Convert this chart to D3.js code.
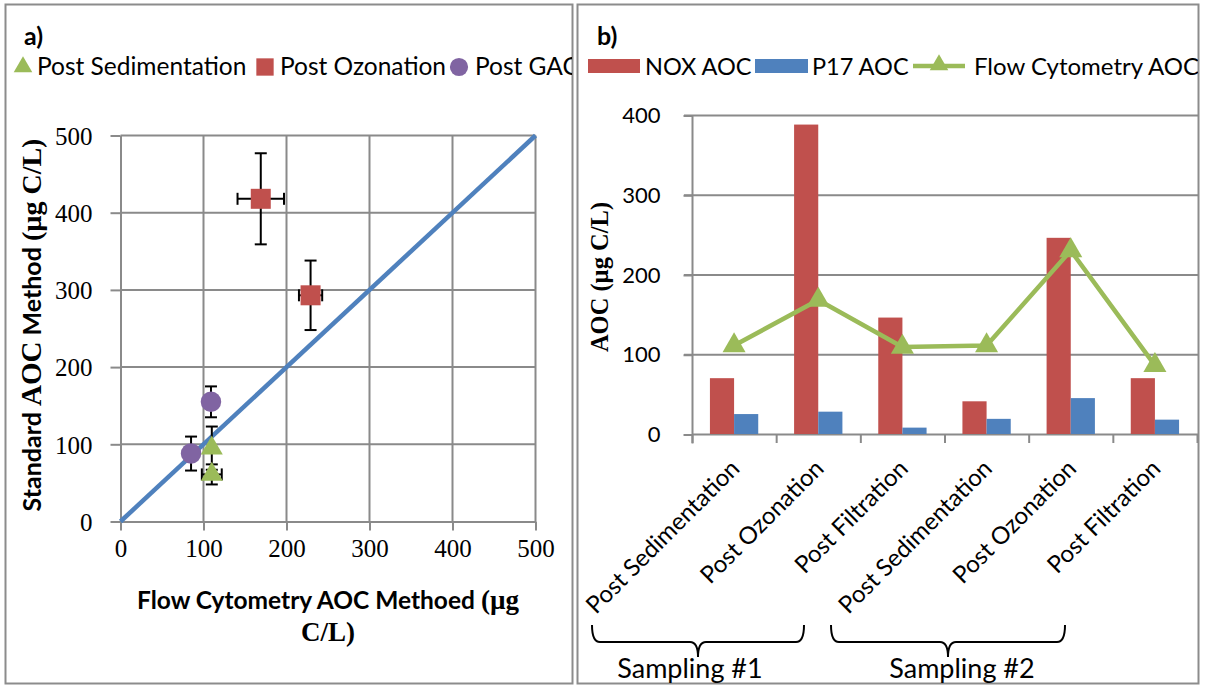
<!DOCTYPE html>
<html>
<head>
<meta charset="utf-8">
<script src="https://cdn.jsdelivr.net/npm/d3@7"></script>
<style>
  html, body { margin: 0; padding: 0; background: #fff; }
  svg { display: block; }
  .sans { font-family: Lato, "Open Sans", sans-serif; }
  .serif { font-family: "Liberation Serif", "Times New Roman", serif; }
</style>
</head>
<body>
<svg id="chart" width="1205" height="685"></svg>
<script>
// ---- Panel a: standard vs flow-cytometry AOC (µg C/L) ----
const sedX = [110, 110], sedY = [95, 61], sedXErr = [0, 12], sedYErr = [28, 13];
const ozoX = [169, 229], ozoY = [418, 293], ozoXErr = [28, 14], ozoYErr = [59, 45];
const gacX = [109, 85], gacY = [155, 88], gacXErr = [0, 0], gacYErr = [20, 22];
const scatterTicks = [0, 100, 200, 300, 400, 500];
const seriesA = ["Post Sedimentation", "Post Ozonation", "Post GAC"];

// ---- Panel b: AOC by treatment stage and sampling campaign ----
const stages = ["Post Sedimentation", "Post Ozonation", "Post Filtration",
                "Post Sedimentation", "Post Ozonation", "Post Filtration"];
const noxAOC = [70, 388, 146, 41, 246, 70];
const p17AOC = [25, 28, 8, 19, 45, 18];
const flowAOC = [111, 168, 109, 111, 230, 86];
const barTicks = [0, 100, 200, 300, 400];
const seriesB = ["NOX AOC", "P17 AOC", "Flow Cytometry AOC"];
const samplings = ["Sampling #1", "Sampling #2"];

const RED = "#C0504D", BLUE = "#4F81BD", GREEN = "#9BBB59", PURPLE = "#8064A2";
const GRID = "#8a8a8a", FRAME = "#8c8c8c";

const svg = d3.select("#chart");

// panel frames
svg.append("rect").attr("x", 5.5).attr("y", 4.5).attr("width", 567).attr("height", 679)
  .attr("fill", "none").attr("stroke", FRAME).attr("stroke-width", 2);
svg.append("rect").attr("x", 577.5).attr("y", 4.5).attr("width", 621).attr("height", 679)
  .attr("fill", "none").attr("stroke", FRAME).attr("stroke-width", 2);

svg.append("clipPath").attr("id", "clipA").append("rect")
  .attr("x", 6).attr("y", 5).attr("width", 566).attr("height", 678);
svg.append("clipPath").attr("id", "clipB").append("rect")
  .attr("x", 578).attr("y", 5).attr("width", 620).attr("height", 678);

// ================= Panel a =================
const gA = svg.append("g").attr("clip-path", "url(#clipA)");
const xA = d3.scaleLinear().domain([0, 500]).range([120.5, 535.5]);
const yA = d3.scaleLinear().domain([0, 500]).range([521.5, 135.5]);

// grid
gA.append("g").selectAll("line").data(scatterTicks.slice(1)).join("line")
  .attr("x1", d => xA(d)).attr("x2", d => xA(d)).attr("y1", yA(0)).attr("y2", yA(500))
  .attr("stroke", GRID).attr("stroke-width", 2);
gA.append("g").selectAll("line").data(scatterTicks.slice(1)).join("line")
  .attr("x1", xA(0)).attr("x2", xA(500)).attr("y1", d => yA(d)).attr("y2", d => yA(d))
  .attr("stroke", GRID).attr("stroke-width", 2);

// axes
const axA_x = gA.append("g").attr("transform", `translate(0,${yA(0)})`)
  .call(d3.axisBottom(xA).tickValues(scatterTicks).tickSize(9).tickPadding(9).tickSizeOuter(0));
const axA_y = gA.append("g").attr("transform", `translate(${xA(0)},0)`)
  .call(d3.axisLeft(yA).tickValues(scatterTicks).tickSize(10).tickPadding(18).tickSizeOuter(0));
[axA_x, axA_y].forEach(ax => {
  ax.selectAll("path, line").attr("stroke", GRID).attr("stroke-width", 2);
  ax.selectAll("text").attr("class", "serif").attr("font-size", 25).attr("fill", "#000");
});
axA_y.selectAll("text").attr("dy", "0.35em");

// 1:1 reference line
gA.append("line").attr("x1", xA(0)).attr("y1", yA(0)).attr("x2", xA(500)).attr("y2", yA(500))
  .attr("stroke", BLUE).attr("stroke-width", 4.5);

// error bars
function errorBars(xs, ys, xe, ye) {
  const g = gA.append("g").attr("stroke", "#000").attr("stroke-width", 2);
  const cap = 6;
  xs.forEach((x, i) => {
    const cx = xA(x), cy = yA(ys[i]);
    if (ye[i] > 0) {
      const t = yA(ys[i] + ye[i]), b = yA(ys[i] - ye[i]);
      g.append("line").attr("x1", cx).attr("x2", cx).attr("y1", t).attr("y2", b);
      g.append("line").attr("x1", cx - cap).attr("x2", cx + cap).attr("y1", t).attr("y2", t);
      g.append("line").attr("x1", cx - cap).attr("x2", cx + cap).attr("y1", b).attr("y2", b);
    }
    if (xe[i] > 0) {
      const l = xA(x - xe[i]), r = xA(x + xe[i]);
      g.append("line").attr("x1", l).attr("x2", r).attr("y1", cy).attr("y2", cy);
      g.append("line").attr("x1", l).attr("x2", l).attr("y1", cy - cap).attr("y2", cy + cap);
      g.append("line").attr("x1", r).attr("x2", r).attr("y1", cy - cap).attr("y2", cy + cap);
    }
  });
}
errorBars(ozoX, ozoY, ozoXErr, ozoYErr);
errorBars(gacX, gacY, gacXErr, gacYErr);
errorBars(sedX, sedY, sedXErr, sedYErr);

const symTri = d3.symbol().type(d3.symbolTriangle).size(210);
const symSq = d3.symbol().type(d3.symbolSquare).size(400);
const symCir = d3.symbol().type(d3.symbolCircle).size(330);

gA.append("g").selectAll("path").data(ozoX).join("path")
  .attr("d", symSq).attr("fill", RED)
  .attr("transform", (d, i) => `translate(${xA(d)},${yA(ozoY[i])})`);
gA.append("g").selectAll("path").data(gacX).join("path")
  .attr("d", symCir).attr("fill", PURPLE)
  .attr("transform", (d, i) => `translate(${xA(d)},${yA(gacY[i])})`);
gA.append("g").selectAll("path").data(sedX).join("path")
  .attr("d", symTri).attr("fill", GREEN)
  .attr("transform", (d, i) => `translate(${xA(d)},${yA(sedY[i])})`);

// panel label and legend
gA.append("text").attr("class", "sans").attr("x", 24).attr("y", 45)
  .attr("font-size", 25).attr("font-weight", "bold").text("a)");
const legA = gA.append("g").attr("class", "sans").attr("font-size", 24.5);
const legASyms = [
  { x: 23, tx: 37, d: d3.symbol().type(d3.symbolTriangle).size(150)(), color: GREEN },
  { x: 265, tx: 280, d: d3.symbol().type(d3.symbolSquare).size(300)(), color: RED },
  { x: 459, tx: 475, d: d3.symbol().type(d3.symbolCircle).size(260)(), color: PURPLE }
];
legASyms.forEach((it, i) => {
  legA.append("path").attr("d", it.d).attr("fill", it.color).attr("transform", `translate(${it.x},67)`);
  legA.append("text").attr("x", it.tx).attr("y", 75).text(seriesA[i]);
});

// axis titles
const xt = gA.append("text").attr("text-anchor", "middle").attr("font-weight", "bold").attr("font-size", 24.5);
xt.append("tspan").attr("x", 328).attr("y", 609).attr("class", "sans").text("Flow Cytometry AOC Methoed ");
xt.append("tspan").attr("class", "serif").attr("font-size", 27).text("(µg");
gA.append("text").attr("class", "serif").attr("x", 328).attr("y", 641).attr("text-anchor", "middle")
  .attr("font-weight", "bold").attr("font-size", 27).text("C/L)");

const yt = gA.append("text").attr("transform", "translate(41,325) rotate(-90)")
  .attr("text-anchor", "middle").attr("font-weight", "bold").attr("font-size", 25);
yt.append("tspan").attr("class", "sans").text("Standard ");
yt.append("tspan").attr("class", "serif").attr("font-size", 29).text("AOC");
yt.append("tspan").attr("class", "sans").text(" Method  ");
yt.append("tspan").attr("class", "serif").attr("font-size", 28).text("(µg C/L)");

// ================= Panel b =================
const gB = svg.append("g").attr("clip-path", "url(#clipB)");
const xB = d3.scaleBand().domain(d3.range(stages.length)).range([692, 1197]).paddingInner(0.426).paddingOuter(0.213);
const x0B = d3.scaleBand().domain(d3.range(stages.length)).range([692, 1197]);
const yB = d3.scaleLinear().domain([0, 400]).range([434, 115]);

// horizontal grid
gB.append("g").selectAll("line").data(barTicks.slice(1)).join("line")
  .attr("x1", 684).attr("x2", 1198).attr("y1", d => yB(d) + 0.5).attr("y2", d => yB(d) + 0.5)
  .attr("stroke", GRID).attr("stroke-width", 2);

const axB_y = gB.append("g").attr("transform", "translate(692.5,0.5)")
  .call(d3.axisLeft(yB).tickValues(barTicks).tickSize(9).tickPadding(23).tickSizeOuter(0));
axB_y.selectAll("path, line").attr("stroke", GRID).attr("stroke-width", 2);
axB_y.selectAll("text").attr("class", "sans").attr("font-size", 22).attr("fill", "#000");
axB_y.select(".domain").attr("d", `M0,${yB(400)}V${yB(0) + 9}`);

// baseline + category boundary ticks
gB.append("line").attr("x1", 692).attr("x2", 1198).attr("y1", yB(0) + 0.5).attr("y2", yB(0) + 0.5)
  .attr("stroke", GRID).attr("stroke-width", 2);
gB.append("g").selectAll("line").data(d3.range(stages.length + 1)).join("line")
  .attr("x1", i => 692.5 + i * x0B.step()).attr("x2", i => 692.5 + i * x0B.step())
  .attr("y1", yB(0)).attr("y2", yB(0) + 9).attr("stroke", GRID).attr("stroke-width", 2);

// bars
const bw = xB.bandwidth() / 2;
gB.append("g").selectAll("rect").data(noxAOC).join("rect")
  .attr("x", (d, i) => xB(i)).attr("width", bw)
  .attr("y", d => yB(d)).attr("height", d => yB(0) - yB(d)).attr("fill", RED);
gB.append("g").selectAll("rect").data(p17AOC).join("rect")
  .attr("x", (d, i) => xB(i) + bw).attr("width", bw)
  .attr("y", d => yB(d)).attr("height", d => yB(0) - yB(d)).attr("fill", BLUE);

// flow cytometry line
const cx = i => x0B(i) + x0B.bandwidth() / 2;
gB.append("path").datum(flowAOC)
  .attr("d", d3.line().x((d, i) => cx(i)).y(d => yB(d)))
  .attr("fill", "none").attr("stroke", GREEN).attr("stroke-width", 4.5).attr("stroke-linejoin", "round");
const triB = d3.symbol().type(d3.symbolTriangle).size(230);
gB.append("g").selectAll("path").data(flowAOC).join("path")
  .attr("d", triB).attr("fill", GREEN)
  .attr("transform", (d, i) => `translate(${cx(i)},${yB(d)})`);

// category labels
gB.append("g").selectAll("text").data(stages).join("text")
  .attr("class", "sans").attr("font-size", 24).attr("text-anchor", "end")
  .attr("transform", (d, i) => `translate(${cx(i) + 7},470) rotate(-45)`)
  .text(d => d);

// sampling braces
const braces = [{ x1: 592, x2: 804, tip: 698, lx: 690 }, { x1: 831, x2: 1065, tip: 948, lx: 962 }];
braces.forEach((b, i) => {
  const top = 625, mid = 642, low = 657, r = 8;
  const p = d3.path();
  p.moveTo(b.x1, top);
  p.quadraticCurveTo(b.x1, mid, b.x1 + r, mid);
  p.lineTo(b.tip - r, mid);
  p.quadraticCurveTo(b.tip, mid, b.tip, low);
  p.quadraticCurveTo(b.tip, mid, b.tip + r, mid);
  p.lineTo(b.x2 - r, mid);
  p.quadraticCurveTo(b.x2, mid, b.x2, top);
  gB.append("path").attr("d", p.toString()).attr("fill", "none").attr("stroke", "#000").attr("stroke-width", 2);
  gB.append("text").attr("class", "sans").attr("font-size", 27).attr("text-anchor", "middle")
    .attr("x", b.lx).attr("y", 678).text(samplings[i]);
});

// panel label, legend, y title
gB.append("text").attr("class", "sans").attr("x", 597).attr("y", 45)
  .attr("font-size", 25).attr("font-weight", "bold").text("b)");
const legB = gB.append("g").attr("class", "sans").attr("font-size", 23.5);
legB.append("rect").attr("x", 588).attr("y", 59).attr("width", 52).attr("height", 14).attr("fill", RED);
legB.append("text").attr("x", 645).attr("y", 75).text(seriesB[0]);
legB.append("rect").attr("x", 755).attr("y", 59).attr("width", 53).attr("height", 14).attr("fill", BLUE);
legB.append("text").attr("x", 812).attr("y", 75).text(seriesB[1]);
legB.append("line").attr("x1", 913).attr("x2", 965).attr("y1", 66).attr("y2", 66)
  .attr("stroke", GREEN).attr("stroke-width", 4.5);
legB.append("path").attr("d", d3.symbol().type(d3.symbolTriangle).size(150)).attr("fill", GREEN)
  .attr("transform", "translate(939,65)");
legB.append("text").attr("x", 974).attr("y", 75).attr("font-size", 24).text(seriesB[2]);

gB.append("text").attr("class", "serif").attr("font-weight", "bold").attr("font-size", 24.5)
  .attr("text-anchor", "middle").attr("transform", "translate(608,277) rotate(-90)")
  .text("AOC (µg C/L)");
</script>
</body>
</html>
